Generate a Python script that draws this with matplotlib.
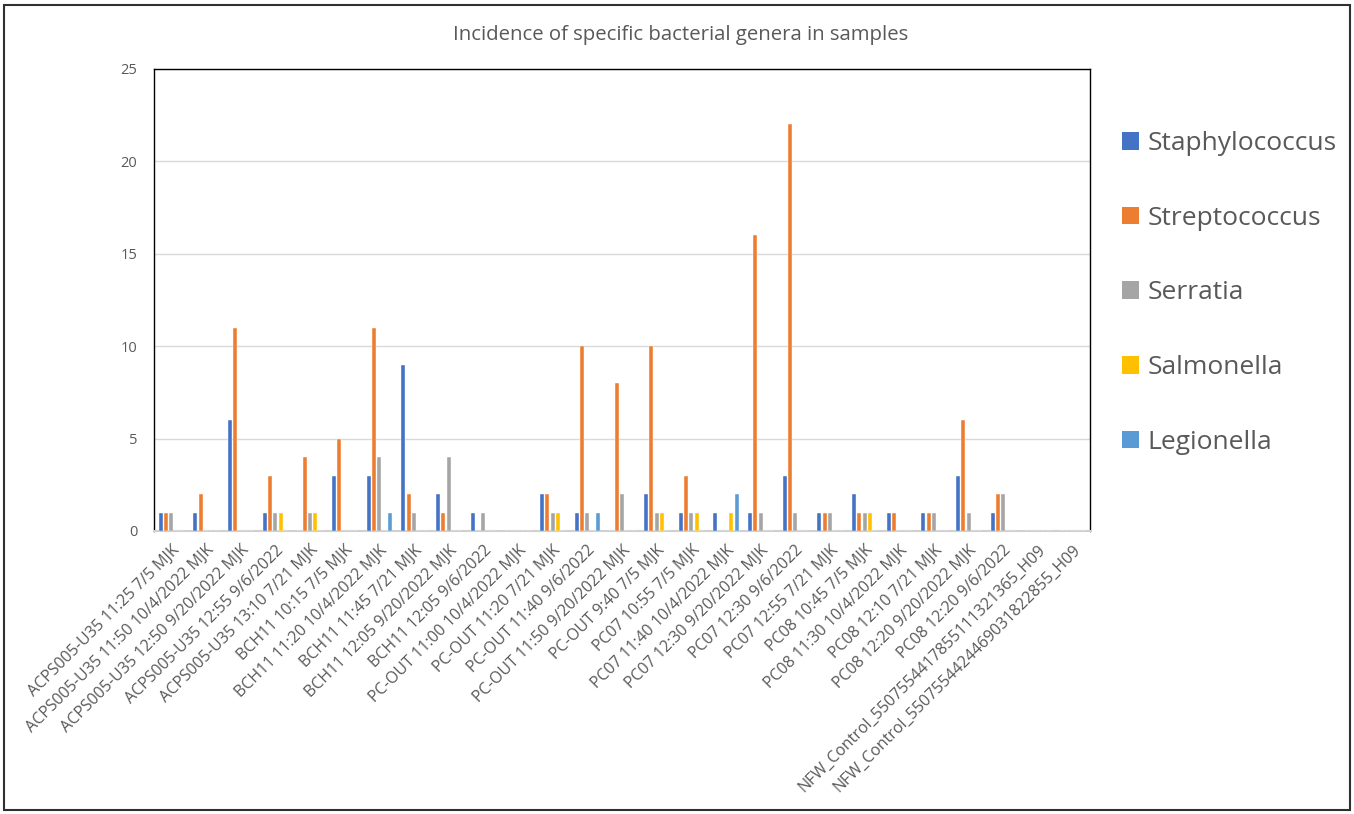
import matplotlib
matplotlib.use("Agg")
import matplotlib.pyplot as plt
import numpy as np
from matplotlib.patches import Patch, Rectangle

categories = [
    "ACPS005-U35 11:25 7/5 MJK",
    "ACPS005-U35 11:50 10/4/2022 MJK",
    "ACPS005-U35 12:50 9/20/2022 MJK",
    "ACPS005-U35 12:55 9/6/2022",
    "ACPS005-U35 13:10 7/21 MJK",
    "BCH11 10:15 7/5 MJK",
    "BCH11 11:20 10/4/2022 MJK",
    "BCH11 11:45 7/21 MJK",
    "BCH11 12:05 9/20/2022 MJK",
    "BCH11 12:05 9/6/2022",
    "PC-OUT 11:00 10/4/2022 MJK",
    "PC-OUT 11:20 7/21 MJK",
    "PC-OUT 11:40 9/6/2022",
    "PC-OUT 11:50 9/20/2022 MJK",
    "PC-OUT 9:40 7/5 MJK",
    "PC07 10:55 7/5 MJK",
    "PC07 11:40 10/4/2022 MJK",
    "PC07 12:30 9/20/2022 MJK",
    "PC07 12:30 9/6/2022",
    "PC07 12:55 7/21 MJK",
    "PC08 10:45 7/5 MJK",
    "PC08 11:30 10/4/2022 MJK",
    "PC08 12:10 7/21 MJK",
    "PC08 12:20 9/20/2022 MJK",
    "PC08 12:20 9/6/2022",
    "NFW_Control_5507554417855111321365_H09",
    "NFW_Control_5507554424469031822855_H09",
]

staphylococcus = [1, 1, 6, 1, 0, 3, 3, 9, 2, 1, 0, 2, 1, 0, 2, 1, 1, 1, 3, 1, 2, 1, 1, 3, 1, 0, 0]
streptococcus  = [1, 2, 11, 3, 4, 5, 11, 2, 1, 0, 0, 2, 10, 8, 10, 3, 0, 16, 22, 1, 1, 1, 1, 6, 2, 0, 0]
serratia       = [1, 0, 0, 1, 1, 0, 4, 1, 4, 1, 0, 1, 1, 2, 1, 1, 0, 1, 1, 1, 1, 0, 1, 1, 2, 0, 0]
salmonella     = [0, 0, 0, 1, 1, 0, 0, 0, 0, 0, 0, 1, 0, 0, 1, 1, 1, 0, 0, 0, 1, 0, 0, 0, 0, 0, 0]
legionella     = [0, 0, 0, 0, 0, 0, 1, 0, 0, 0, 0, 0, 1, 0, 0, 0, 2, 0, 0, 0, 0, 0, 0, 0, 0, 0, 0]

series_names = ["Staphylococcus", "Streptococcus", "Serratia", "Salmonella", "Legionella"]
series_values = [staphylococcus, streptococcus, serratia, salmonella, legionella]
colors = ["#4472C4", "#ED7D31", "#A5A5A5", "#FFC000", "#5B9BD5"]

plt.rcParams['font.family'] = ['Open Sans', 'DejaVu Sans']
text_color = "#595959"

W, H = 1354, 814
fig = plt.figure(figsize=(W / 100, H / 100), dpi=100)
ax = fig.add_axes([154 / W, 1 - 531 / H, (1090 - 154) / W, (531 - 69) / H])

x = np.arange(len(categories))
pitch = 0.155
bw = 0.12
for i, (name, vals, c) in enumerate(zip(series_names, series_values, colors)):
    ax.bar(x + (i - 2) * pitch, vals, width=bw, color=c, label=name, zorder=3,
           edgecolor='white', linewidth=0.3)

ax.set_xlim(-0.5, len(categories) - 0.5)
ax.set_ylim(0, 25)
ax.set_yticks([0, 5, 10, 15, 20, 25])
ax.yaxis.grid(True, color="#D9D9D9", linewidth=1.0, zorder=0)
ax.set_axisbelow(True)
ax.tick_params(axis='y', length=0, pad=12, labelsize=10.5, labelcolor=text_color)
ax.tick_params(axis='x', length=0, pad=8)
ax.set_xticks(x)
ax.set_xticklabels(categories, rotation=45, ha='right', va='top',
                   rotation_mode='anchor', fontsize=11.5, color=text_color)

for s in ['left', 'top', 'right']:
    ax.spines[s].set_color('black')
    ax.spines[s].set_linewidth(1.0)
ax.spines['bottom'].set_color('#D0D0D0')
ax.spines['bottom'].set_linewidth(1.5)

fig.text(681 / W, 1 - 35 / H, "Incidence of specific bacterial genera in samples",
         ha='center', va='center', fontsize=14.7, color=text_color)

handles = [Patch(facecolor=c, edgecolor='none') for c in colors]
leg = fig.legend(handles, series_names, loc='upper left',
                 bbox_to_anchor=(1109 / W, 1 - 118 / H), frameon=False,
                 fontsize=19, labelspacing=1.88, handlelength=0.65,
                 handleheight=0.65, handletextpad=0.3, borderpad=0)
for t in leg.get_texts():
    t.set_color(text_color)

fig.patches.append(Rectangle((4 / W, 4 / H), (W - 8) / W, (H - 9) / H,
                             transform=fig.transFigure, fill=False,
                             edgecolor='#303030', linewidth=1.5))

fig.savefig("out.png", dpi=100)
